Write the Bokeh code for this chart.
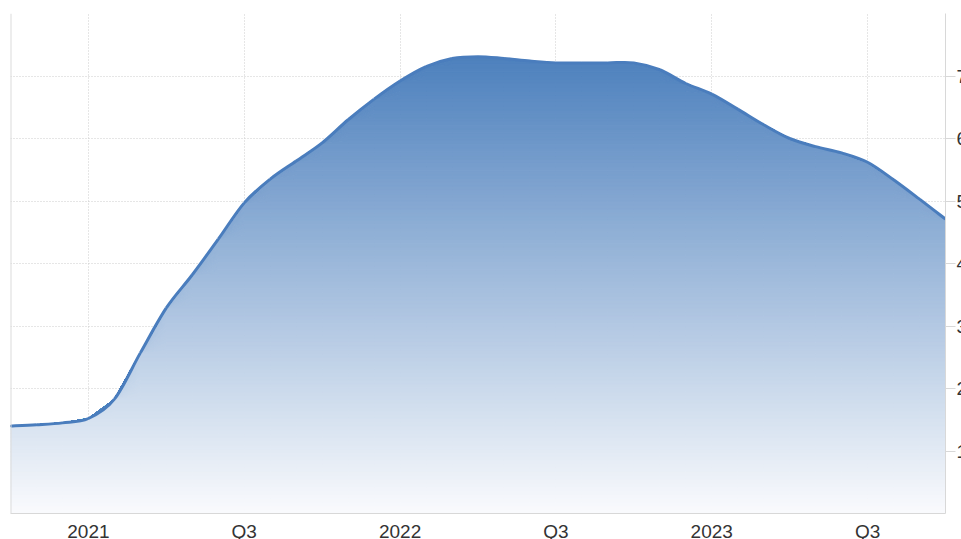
import numpy as np
from bokeh.plotting import figure
from bokeh.models import FixedTicker, Span
from bokeh.embed import file_html
from bokeh.resources import INLINE

# Monthly values, Oct 2020 .. Oct 2023
months = ["2020-10", "2020-11", "2020-12",
          "2021-01", "2021-02", "2021-03", "2021-04", "2021-05", "2021-06",
          "2021-07", "2021-08", "2021-09", "2021-10", "2021-11", "2021-12",
          "2022-01", "2022-02", "2022-03", "2022-04", "2022-05", "2022-06",
          "2022-07", "2022-08", "2022-09", "2022-10", "2022-11", "2022-12",
          "2023-01", "2023-02", "2023-03", "2023-04", "2023-05", "2023-06",
          "2023-07", "2023-08", "2023-09", "2023-10"]
values = [1.40, 1.42, 1.45,
          1.52, 1.83, 2.57, 3.29, 3.82, 4.39,
          4.97, 5.35, 5.64, 5.93, 6.30, 6.63,
          6.92, 7.15, 7.28, 7.31, 7.28, 7.24,
          7.21, 7.21, 7.21, 7.21, 7.10, 6.88,
          6.71, 6.47, 6.22, 6.00, 5.87, 5.77,
          5.62, 5.34, 5.03, 4.71]
y_ticks = [1, 2, 3, 4, 5, 6, 7]
y_grid = [1, 2, 3, 4, 5, 6, 7, 8]

x = np.arange(len(months), dtype=float)
v = np.array(values)

# x tick labels derived from month strings: January -> year, July -> "Q3"
x_ticks = []
x_labels = {}
for i, m in enumerate(months):
    yr, mo = m.split("-")
    if mo == "01":
        x_ticks.append(i)
        x_labels[i] = yr
    elif mo == "07":
        x_ticks.append(i)
        x_labels[i] = "Q3"

p = figure(frame_width=935, frame_height=500, output_backend="svg",
           toolbar_location=None, x_range=(0, len(months) - 1), y_range=(0, 8),
           y_axis_location="right", min_border_left=10, min_border_top=13,
           min_border_bottom=0, min_border_right=0, background_fill_color="white",
           border_fill_color="white", outline_line_color=None)

# gradient fill via stacked horizontal bands
top_c = np.array([77, 128, 189])
bot_c = np.array([250, 251, 253])
vmax = float(v.max())
n = 120
edges = np.linspace(0, vmax, n + 1)
xs, ys, cols = [], [], []
for i in range(n):
    lo, hi = edges[i], edges[i + 1]
    t = (lo + hi) / 2 / vmax
    c = bot_c + (top_c - bot_c) * t
    upper = np.minimum(v, hi)
    lower = np.minimum(v, lo)
    xs.append(list(x) + list(x[::-1]))
    ys.append(list(upper) + list(lower[::-1]))
    cols.append("#%02x%02x%02x" % tuple(int(round(k)) for k in c))
p.patches(xs, ys, fill_color=cols, line_color=cols, line_width=1)

# smooth line through the monthly points (cubic Bezier segments, Catmull-Rom tangents)
xp = np.concatenate([[x[0]], x, [x[-1]]])
vp = np.concatenate([[v[0]], v, [v[-1]]])
k = 1.0 / 6.0
x0, y0 = x[:-1], v[:-1]
x1, y1 = x[1:], v[1:]
cx0 = x0 + (xp[2:-1] - xp[:-3]) * k
cy0 = y0 + (vp[2:-1] - vp[:-3]) * k
cx1 = x1 - (xp[3:] - xp[1:-2]) * k
cy1 = y1 - (vp[3:] - vp[1:-2]) * k
p.bezier(x0=x0, y0=y0, x1=x1, y1=y1, cx0=cx0, cy0=cy0, cx1=cx1, cy1=cy1,
         line_color="#4a7dbd", line_width=3)

# grids
p.xgrid.ticker = FixedTicker(ticks=x_ticks)
p.ygrid.ticker = FixedTicker(ticks=y_grid)
for g in (p.xgrid, p.ygrid):
    g.grid_line_color = "#cccccc"
    g.grid_line_dash = "1 2"
    g.grid_line_width = 1

p.add_layout(Span(location=0, dimension="height", line_color="#dcdcdc", line_width=2))

xa = p.xaxis[0]
xa.ticker = FixedTicker(ticks=x_ticks)
xa.major_label_overrides = x_labels
xa.axis_line_color = "#d8d8d8"
xa.major_tick_line_color = None
xa.major_tick_out = 0
xa.major_tick_in = 0
xa.minor_tick_line_color = None
xa.minor_tick_out = 0
xa.major_label_standoff = 7
xa.major_label_text_font = "Liberation Sans"
xa.major_label_text_font_size = "19px"
xa.major_label_text_color = "#333333"

ya = p.yaxis[0]
ya.ticker = FixedTicker(ticks=y_ticks)
ya.axis_line_color = "#d8d8d8"
ya.major_tick_line_color = "#d8d8d8"
ya.major_tick_out = 10
ya.major_tick_in = 0
ya.minor_tick_line_color = None
ya.major_label_standoff = 1
ya.major_label_text_font = "Liberation Sans"
ya.major_label_text_font_size = "19px"
ya.major_label_text_color = "#333333"

open("out.html", "w").write(file_html(p, INLINE))
